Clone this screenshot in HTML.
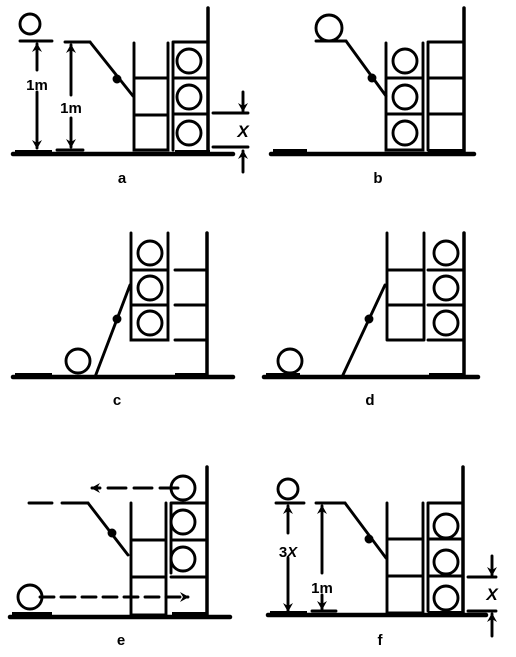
<!DOCTYPE html>
<html><head><meta charset="utf-8"><style>
html,body{margin:0;padding:0;background:#fff;}
svg{display:block;}
text{font-family:"Liberation Sans",sans-serif;font-weight:bold;fill:#000;}
</style></head><body>
<svg width="516" height="657" viewBox="0 0 516 657" xmlns="http://www.w3.org/2000/svg">
<defs>
<marker id="ah" markerWidth="9" markerHeight="10" refX="8" refY="5" orient="auto" markerUnits="userSpaceOnUse"><path d="M0,0 L9,5 L0,10 L3,5 Z" fill="#000"/></marker>
</defs>
<g stroke="#000" fill="none" stroke-width="2.9" stroke-linecap="round">

<g>
<line x1="13" y1="154" x2="233" y2="154" stroke-width="4.5"/>
<rect x="15" y="150" width="37" height="5" fill="#000" stroke="none"/>
<rect x="175" y="150" width="35" height="5" fill="#000" stroke="none"/>
<circle cx="30" cy="24" r="10"/>
<line x1="20" y1="41" x2="52" y2="41"/>
<line x1="37" y1="70" x2="37" y2="44" marker-end="url(#ah)"/>
<line x1="37" y1="92" x2="37" y2="148" marker-end="url(#ah)"/>
<line x1="65" y1="42" x2="90" y2="42"/>
<line x1="71" y1="95" x2="71" y2="45" marker-end="url(#ah)"/>
<line x1="71" y1="118" x2="71" y2="147" marker-end="url(#ah)"/>
<line x1="57" y1="150" x2="83" y2="150"/>
<polyline points="90,42 133,96"/>
<circle cx="117" cy="79" r="3" fill="#000"/>
<path d="M134,43 V150 H168 V43 M134,78 H168 M134,115 H168"/>
<path d="M173,42 H208 M173,42 V150 M173,78 H208 M173,114 H208"/>
<line x1="208" y1="8" x2="208" y2="154" stroke-width="3.5"/>
<circle cx="189" cy="61" r="12"/><circle cx="189" cy="97" r="12"/><circle cx="189" cy="133" r="12"/>
<line x1="213" y1="113" x2="248" y2="113"/><line x1="213" y1="147" x2="248" y2="147"/>
<line x1="243" y1="92" x2="243" y2="111" marker-end="url(#ah)"/>
<line x1="243" y1="172" x2="243" y2="151" marker-end="url(#ah)"/>
</g>

<g transform="translate(256,0)">
<line x1="15" y1="154" x2="218" y2="154" stroke-width="4.5"/>
<rect x="17" y="149" width="34" height="5" fill="#000" stroke="none"/>
<rect x="172" y="149" width="36" height="5" fill="#000" stroke="none"/>
<circle cx="73" cy="28" r="13"/>
<line x1="60" y1="41" x2="90" y2="41"/>
<polyline points="90,41 130,96"/>
<circle cx="116" cy="78" r="3" fill="#000"/>
<path d="M130,43 V150 H167 V43 M130,78 H167 M130,114 H167"/>
<path d="M172,42 H208 M172,42 V150 M172,78 H208 M172,114 H208"/>
<line x1="208" y1="8" x2="208" y2="154" stroke-width="3.5"/>
<circle cx="149" cy="61" r="12"/><circle cx="149" cy="97" r="12"/><circle cx="149" cy="133" r="12"/>
</g>

<g transform="translate(0,223)">
<line x1="13" y1="154" x2="233" y2="154" stroke-width="4.5"/>
<rect x="15" y="150" width="37" height="5" fill="#000" stroke="none"/>
<rect x="175" y="150" width="33" height="5" fill="#000" stroke="none"/>
<circle cx="78" cy="138" r="12"/>
<polyline points="95,154 130,62"/>
<circle cx="117" cy="96" r="3" fill="#000"/>
<path d="M131,10 V117 H168 V10 M131,47 H168 M131,82 H168"/>
<path d="M175,47 H207 M175,82 H207 M175,117 H207"/>
<line x1="207" y1="10" x2="207" y2="154" stroke-width="3.5"/>
<circle cx="150" cy="30" r="12"/><circle cx="150" cy="65" r="12"/><circle cx="150" cy="100" r="12"/>
</g>

<g transform="translate(256,223)">
<line x1="8" y1="154" x2="222" y2="154" stroke-width="4.5"/>
<rect x="10" y="150" width="34" height="5" fill="#000" stroke="none"/>
<rect x="173" y="150" width="35" height="5" fill="#000" stroke="none"/>
<circle cx="34" cy="138" r="12"/>
<polyline points="86,154 129,62"/>
<circle cx="113" cy="96" r="3" fill="#000"/>
<path d="M131,10 V117 M131,47 H168 M131,82 H168 M131,117 H168 M168,10 V117"/>
<path d="M172,47 H208 M172,82 H208 M172,117 H208"/>
<line x1="208" y1="10" x2="208" y2="154" stroke-width="3.5"/>
<circle cx="190" cy="30" r="12"/><circle cx="190" cy="65" r="12"/><circle cx="190" cy="100" r="12"/>
</g>

<g transform="translate(0,463)">
<line x1="10" y1="154" x2="230" y2="154" stroke-width="4.5"/>
<rect x="12" y="149" width="40" height="5" fill="#000" stroke="none"/>
<rect x="172" y="149" width="36" height="5" fill="#000" stroke="none"/>
<circle cx="30" cy="134" r="12"/>
<line x1="40" y1="134" x2="188" y2="134" stroke-dasharray="14,7" marker-end="url(#ah)"/>
<line x1="178" y1="25" x2="92" y2="25" stroke-dasharray="18,8" marker-end="url(#ah)"/>
<line x1="29" y1="40" x2="52" y2="40"/><line x1="62" y1="40" x2="88" y2="40"/>
<polyline points="88,40 128,92"/>
<circle cx="112" cy="70" r="3" fill="#000"/>
<path d="M131,40 V152 H166 V40 M131,77 H166 M131,114 H166"/>
<path d="M171,40 H205 M171,40 V110 M171,77 H205 M171,114 H205"/>
<line x1="207" y1="4" x2="207" y2="154" stroke-width="3.5"/>
<circle cx="183" cy="25" r="12"/><circle cx="183" cy="59" r="12"/><circle cx="183" cy="96" r="12"/>
</g>

<g transform="translate(256,461)">
<line x1="12" y1="154" x2="230" y2="154" stroke-width="4.5"/>
<rect x="14" y="150" width="37" height="5" fill="#000" stroke="none"/>
<rect x="172" y="150" width="36" height="5" fill="#000" stroke="none"/>
<circle cx="32" cy="28" r="10"/>
<line x1="20" y1="42" x2="48" y2="42"/>
<line x1="32" y1="72" x2="32" y2="45" marker-end="url(#ah)"/>
<line x1="32" y1="97" x2="32" y2="150" marker-end="url(#ah)"/>
<line x1="60" y1="42" x2="89" y2="42"/>
<line x1="66" y1="112" x2="66" y2="45" marker-end="url(#ah)"/>
<line x1="66" y1="134" x2="66" y2="148" marker-end="url(#ah)"/>
<line x1="56" y1="150" x2="80" y2="150"/>
<polyline points="89,42 130,97"/>
<circle cx="113" cy="78" r="3" fill="#000"/>
<path d="M131,42 V152 H167 V42 M131,78 H167 M131,115 H167"/>
<path d="M172,42 H206 M172,42 V150 M172,78 H206 M172,115 H206"/>
<line x1="207" y1="6" x2="207" y2="154" stroke-width="3.5"/>
<circle cx="190" cy="65" r="12"/><circle cx="190" cy="101" r="12"/><circle cx="190" cy="137" r="12"/>
<line x1="212" y1="116" x2="240" y2="116"/><line x1="212" y1="150" x2="240" y2="150"/>
<line x1="236" y1="95" x2="236" y2="114" marker-end="url(#ah)"/>
<line x1="236" y1="175" x2="236" y2="153" marker-end="url(#ah)"/>
</g>
</g>

<g font-size="15">
<text x="37" y="90" text-anchor="middle">1m</text>
<text x="71" y="113" text-anchor="middle">1m</text>
<text x="243" y="137" text-anchor="middle" font-style="italic" font-size="17">X</text>
<text x="288" y="557" text-anchor="middle">3<tspan font-style="italic">X</tspan></text>
<text x="322" y="593" text-anchor="middle">1m</text>
<text x="492" y="600" text-anchor="middle" font-style="italic" font-size="17">X</text>
<text x="122" y="183" text-anchor="middle">a</text>
<text x="378" y="183" text-anchor="middle">b</text>
<text x="117" y="405" text-anchor="middle">c</text>
<text x="370" y="405" text-anchor="middle">d</text>
<text x="121" y="645" text-anchor="middle">e</text>
<text x="380" y="645" text-anchor="middle">f</text>
</g>
</svg>
</body></html>
